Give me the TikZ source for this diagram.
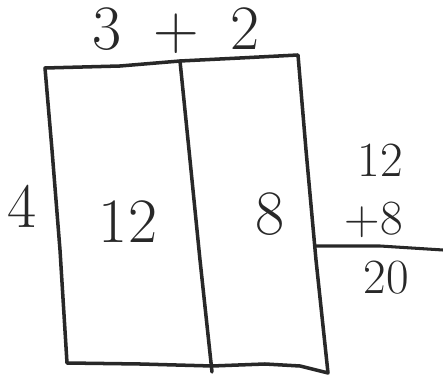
\documentclass[tikz,border=0pt]{standalone}
\usepackage{fontspec}
\usepackage{tikz}
\usetikzlibrary{positioning}
\definecolor{pencil}{RGB}{40,40,40}
\tikzset{
  stroke/.style={draw=pencil,line width=3pt,line cap=round,line join=round},
  digit/.style={text=pencil,inner sep=0pt,font=\fontsize{54}{58}\selectfont},
  small digit/.style={text=pencil,inner sep=0pt,font=\fontsize{42}{46}\selectfont},
}
\begin{document}
\begin{tikzpicture}[x=0.03cm,y=-0.03cm]
        \useasboundingbox (0,0) rectangle (443,375);
        % outer box and the split
        \draw[stroke] (45,68) -- (120,66) -- (180,61) -- (240,58) -- (298,55)
          -- (306,150) -- (316,260) -- (328,373)
          -- (300,366) -- (265,364) -- (212,366) -- (140,364) -- (67,363)
          -- (60,250) -- (52,150) -- cycle;
        \draw[stroke] (180,61) -- (189,150) -- (200,260) -- (212,372);
        % sum on the right
        \draw[stroke,line width=2.6pt] (316,246) -- (380,246) -- (443,250);
        % labels
        \node[digit] (tens) at (176,31) {3\enspace+\enspace2};
        \node[digit] (side) at (22,206) {4};
        \node[digit] (left) at (128,222) {12};
        \node[digit] (right) at (270,214) {8};
        \node[small digit] (top) at (380,160) {12};
        \node[small digit] (add) at (374,220) {+8};
        \node[small digit] (sum) at (386,278) {20};
\end{tikzpicture}
\end{document}
